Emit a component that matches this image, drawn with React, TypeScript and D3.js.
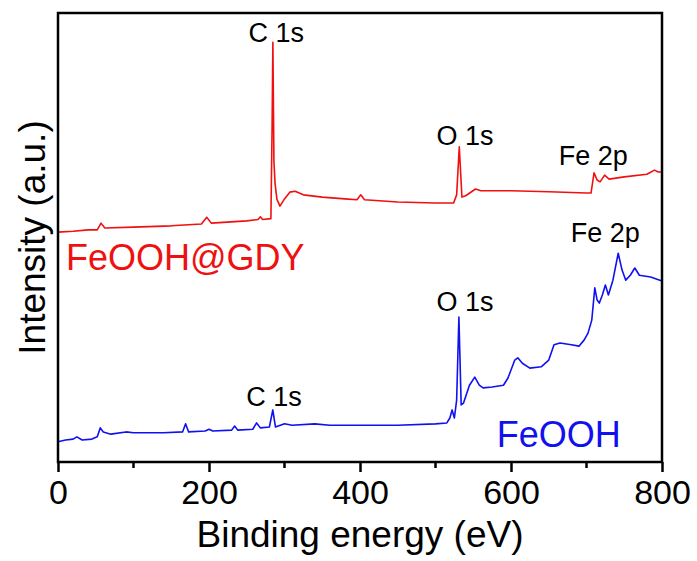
import { useEffect, useRef } from 'react'
import * as d3 from 'd3'

// XPS survey spectra, intensity in arbitrary units
const gdyEnergy = [0, 20, 40, 52, 57, 62, 100, 150, 190, 197, 203, 250, 265, 268, 271, 282, 283.6, 284.6, 286, 287.5, 290, 294, 300, 307, 314, 325, 350, 380, 396, 401, 406, 450, 500, 524, 528, 531.5, 535, 540, 553, 560, 600, 650, 700, 706, 710, 714, 718, 724, 730, 750, 780, 790, 795, 800]
const gdyIntensity = [51.2, 51.4, 51.7, 51.7, 53.2, 52.1, 52.3, 52.6, 53.0, 54.5, 53.2, 53.7, 54.0, 54.6, 54.0, 54.2, 75.0, 93.5, 67.0, 62.0, 58.5, 57.0, 58.6, 60.1, 60.3, 59.5, 59.0, 58.6, 58.4, 59.5, 58.4, 57.9, 57.7, 57.7, 59.5, 70.2, 59.0, 59.3, 60.8, 60.4, 60.4, 60.2, 59.9, 59.9, 64.4, 62.8, 62.4, 63.9, 63.0, 63.5, 64.1, 65.0, 64.6, 64.6]

const feoohEnergy = [0, 10, 20, 25, 32, 45, 52, 56, 60, 70, 90, 100, 140, 165, 169, 173, 195, 200, 205, 230, 234, 238, 258, 263, 268, 280, 284.5, 288, 300, 310, 340, 360, 400, 450, 500, 515, 519, 522, 525, 528, 531, 534, 537, 545, 552, 558, 563, 575, 590, 596, 605, 609, 615, 625, 640, 650, 657, 665, 680, 690, 697, 702, 707, 711, 714, 717, 721, 725, 729, 735, 742, 747, 752, 758, 764, 770, 785, 800]
const feoohIntensity = [4.5, 4.9, 5.1, 5.6, 4.9, 5.1, 5.6, 7.6, 6.7, 6.2, 6.7, 6.5, 6.5, 6.7, 8.5, 6.7, 6.9, 7.3, 6.9, 7.1, 8.0, 7.1, 7.3, 8.7, 7.6, 7.8, 11.6, 7.8, 8.5, 8.2, 8.5, 8.2, 8.2, 8.2, 8.5, 8.7, 9.8, 11.6, 9.8, 13.8, 32.3, 12.7, 13.1, 17.1, 18.9, 17.1, 16.5, 16.7, 17.1, 18.7, 22.7, 23.2, 22.0, 20.9, 21.2, 22.7, 26.1, 26.5, 26.1, 25.8, 27.2, 28.7, 31.6, 38.8, 36.1, 35.4, 37.2, 39.4, 37.2, 40.5, 46.5, 42.8, 40.5, 41.6, 43.2, 41.6, 41.2, 40.3]

const majorTicks = [0, 200, 400, 600, 800]
const minorTicks = [100, 300, 500, 700]

// peak labels: text, energy of label centre, intensity at text baseline
const peakLabels = [
  { text: 'C 1s', ev: 289, at: 93.5, series: 'gdy' },
  { text: 'O 1s', ev: 539, at: 70.6, series: 'gdy' },
  { text: 'Fe 2p', ev: 709, at: 66.1, series: 'gdy' },
  { text: 'C 1s', ev: 286, at: 12.5, series: 'feooh' },
  { text: 'O 1s', ev: 539, at: 33.6, series: 'feooh' },
  { text: 'Fe 2p', ev: 725, at: 49.0, series: 'feooh' },
]
const sampleNames = [
  { text: 'FeOOH@GDY', ev: 10.6, at: 42.8, color: '#ee1111' },
  { text: 'FeOOH', ev: 581, at: 3.3, color: '#1111ee' },
]

const W = 697
const H = 561
const FONT = 'Liberation Sans, Arial, sans-serif'

export default function App() {
  const svgRef = useRef<SVGSVGElement>(null)

  useEffect(() => {
    if (!svgRef.current) return
    const margin = { top: 13, right: 35, bottom: 99, left: 58 }
    const innerWidth = W - margin.left - margin.right
    const innerHeight = H - margin.top - margin.bottom

    const svg = d3.select(svgRef.current)
    svg.selectAll('*').remove()
    const g = svg.append('g').attr('transform', `translate(${margin.left},${margin.top})`)

    const xScale = d3.scaleLinear().domain([0, 800]).range([0, innerWidth])
    const yScale = d3.scaleLinear().domain([0, 100]).range([innerHeight, 0])

    const line = d3.line<[number, number]>()
      .x(d => xScale(d[0]))
      .y(d => yScale(d[1]))

    const gdy = gdyEnergy.map((e, i) => [e, gdyIntensity[i]] as [number, number])
    const feooh = feoohEnergy.map((e, i) => [e, feoohIntensity[i]] as [number, number])

    g.append('path').datum(gdy).attr('d', line).attr('fill', 'none')
      .attr('stroke', '#f01010').attr('stroke-width', 1.6).attr('stroke-linejoin', 'round')
    g.append('path').datum(feooh).attr('d', line).attr('fill', 'none')
      .attr('stroke', '#1010f0').attr('stroke-width', 1.6).attr('stroke-linejoin', 'round')

    // frame
    g.append('rect')
      .attr('width', innerWidth).attr('height', innerHeight)
      .attr('fill', 'none').attr('stroke', '#000').attr('stroke-width', 2.5)

    const xAxis = d3.axisBottom(xScale).tickValues(majorTicks).tickSize(10).tickPadding(8)
    const ax = g.append('g').attr('transform', `translate(0,${innerHeight})`).call(xAxis)
    ax.select('.domain').remove()
    ax.selectAll('line').attr('stroke', '#000').attr('stroke-width', 2.5)
    ax.selectAll('text')
      .attr('fill', '#000')
      .style('font-family', FONT)
      .style('font-size', '34px')

    g.append('g').selectAll('line').data(minorTicks).join('line')
      .attr('x1', d => xScale(d)).attr('x2', d => xScale(d))
      .attr('y1', innerHeight).attr('y2', innerHeight + 6)
      .attr('stroke', '#000').attr('stroke-width', 2.5)

    g.append('text')
      .attr('x', innerWidth / 2).attr('y', innerHeight + 85)
      .attr('text-anchor', 'middle')
      .style('font-family', FONT).style('font-size', '37px')
      .text('Binding energy (eV)')

    g.append('text')
      .attr('transform', `translate(${-13},${innerHeight / 2}) rotate(-90)`)
      .attr('text-anchor', 'middle')
      .style('font-family', FONT).style('font-size', '37px')
      .text('Intensity (a.u.)')

    g.selectAll('.peak').data(peakLabels).join('text')
      .attr('class', 'peak')
      .attr('x', d => xScale(d.ev)).attr('y', d => yScale(d.at))
      .attr('text-anchor', 'middle')
      .style('font-family', FONT).style('font-size', '27px')
      .text(d => d.text)

    g.selectAll('.name').data(sampleNames).join('text')
      .attr('class', 'name')
      .attr('x', d => xScale(d.ev)).attr('y', d => yScale(d.at))
      .attr('fill', d => d.color)
      .style('font-family', FONT).style('font-size', '36px')
      .text(d => d.text)
  }, [])

  return (
    <svg
      ref={svgRef}
      width={W}
      height={H}
      style={{ position: 'absolute', left: 0, top: 0, display: 'block', background: '#fff' }}
    />
  )
}
